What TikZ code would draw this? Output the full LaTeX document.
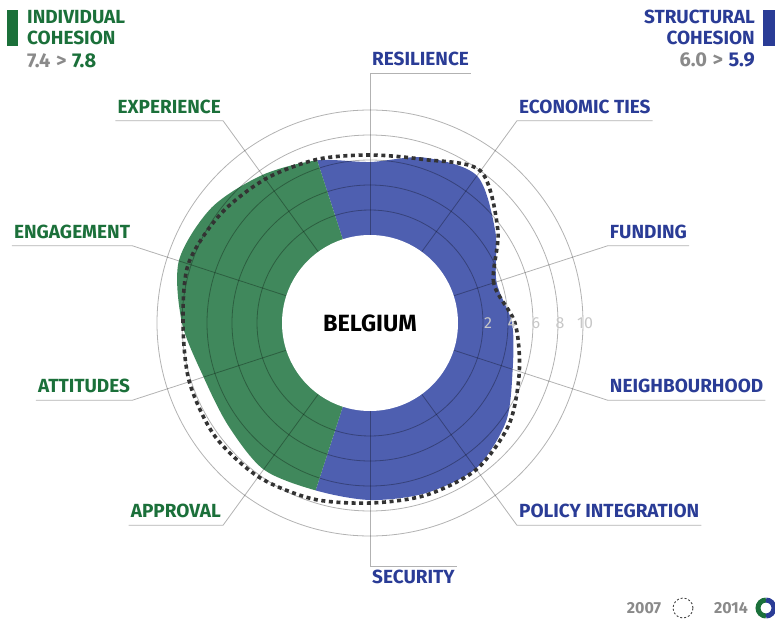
\documentclass[tikz,border=0pt]{standalone}
\usepackage{fontspec}
\setmainfont{Fira Sans}
\usetikzlibrary{calc}

\definecolor{indivtext}{RGB}{27,112,58}
\definecolor{indivfill}{RGB}{64,136,92}
\definecolor{structtext}{RGB}{42,60,150}
\definecolor{structfill}{RGB}{78,95,176}
\definecolor{scoregray}{RGB}{138,138,138}

\begin{document}
\begin{tikzpicture}[x=1pt, y=1pt,
		grid/.style={draw=black, draw opacity=0.3, line width=0.8pt},
		axislabel/.style={font=\fontsize{19}{19}\selectfont\bfseries, inner xsep=2pt, inner ysep=7pt},
		header/.style={font=\fontsize{19}{21}\selectfont\bfseries, inner sep=0pt},
		ringnum/.style={font=\fontsize{16}{16}\selectfont, text=black!22, inner sep=0pt},
		legendtext/.style={font=\fontsize{16}{16}\selectfont\bfseries, text=scoregray, inner sep=0pt},
		olddash/.style={draw=black!80, line width=3.6pt, dash pattern=on 4pt off 3.6pt}]
		\useasboundingbox (-370,-298) rectangle (405,323);
		\coordinate (centre) at (0,0);

		% 2014 values
		\begin{scope}
			\clip plot[smooth cycle] coordinates {(0:142) (18:133) (36:155) (54:182) (72:174) (90:161) (108:171) (126:183) (144:196) (162:201) (180:188) (198:175) (216:175) (234:181) (252:176) (270:177) (288:179) (306:180) (324:168) (342:150)};
			\fill[structfill] (centre) -- (252:300) arc[start angle=252, end angle=468, radius=300] -- cycle;
			\fill[indivfill] (centre) -- (108:300) arc[start angle=108, end angle=252, radius=300] -- cycle;
		\end{scope}

		\foreach \r in {113,138,163,188,213}
			\draw[grid] (centre) circle[radius=\r];

		% structural
		\node[axislabel, text=structtext, anchor=south west] (resilience) at (90:250) {RESILIENCE};
		\draw[grid] (centre) -- (resilience.south west) -- (resilience.south east);
		\node[axislabel, text=structtext, anchor=south west] (economic) at (54:250) {ECONOMIC TIES};
		\draw[grid] (centre) -- (economic.south west) -- (economic.south east);
		\node[axislabel, text=structtext, anchor=south west] (funding) at (18:250) {FUNDING};
		\draw[grid] (centre) -- (funding.south west) -- (funding.south east);
		\node[axislabel, text=structtext, anchor=south west] (neighbourhood) at (-18:250) {NEIGHBOURHOOD};
		\draw[grid] (centre) -- (neighbourhood.south west) -- (neighbourhood.south east);
		\node[axislabel, text=structtext, anchor=south west] (policy) at (-54:250) {POLICY INTEGRATION};
		\draw[grid] (centre) -- (policy.south west) -- (policy.south east);
		\node[axislabel, text=structtext, anchor=north west, inner ysep=4pt] (security) at (-90:243) {SECURITY};
		\draw[grid] (centre) -- (security.north west) -- (security.north east);

		% individual
		\node[axislabel, text=indivtext, anchor=south east] (approval) at (234:250) {APPROVAL};
		\draw[grid] (centre) -- (approval.south east) -- (approval.south west);
		\node[axislabel, text=indivtext, anchor=south east] (attitudes) at (198:250) {ATTITUDES};
		\draw[grid] (centre) -- (attitudes.south east) -- (attitudes.south west);
		\node[axislabel, text=indivtext, anchor=south east] (engagement) at (162:250) {ENGAGEMENT};
		\draw[grid] (centre) -- (engagement.south east) -- (engagement.south west);
		\node[axislabel, text=indivtext, anchor=south east] (experience) at (126:250) {EXPERIENCE};
		\draw[grid] (centre) -- (experience.south east) -- (experience.south west);

		\fill[white] (centre) circle[radius=88];

		% 2007 values
		\draw[olddash] plot[smooth cycle] coordinates {(0:145) (18:130) (36:158) (54:188) (72:172) (90:168) (108:172) (126:178) (144:185) (162:191) (180:187) (198:190) (216:192) (234:190) (252:185) (270:180) (288:181) (306:181) (324:172) (342:157)};

		\node[font=\fontsize{23.5}{23.5}\selectfont\bfseries] (country) at (centre) {BELGIUM};
		\foreach \v/\r in {2/118,4/142,6/166,8/190,10/215}
			\node[ringnum] (ring\v) at (\r,0) {\v};

		% headers
		\fill[indivtext] (-363,277) rectangle (-352,313);
		\node[header, text=indivtext, anchor=north west, align=left] (indiv) at (-343,313) {INDIVIDUAL\\COHESION};
		\node[header, font=\fontsize{20}{20}\selectfont\bfseries, anchor=north west] (indivscore) at (-343,270) {\textcolor{scoregray}{7.4\;>}\;\textcolor{indivtext}{7.8}};
		\fill[structtext] (393,277) rectangle (410,313);
		\node[header, text=structtext, anchor=north east, align=right] (struct) at (385,313) {STRUCTURAL\\COHESION};
		\node[header, font=\fontsize{20}{20}\selectfont\bfseries, anchor=north east] (structscore) at (385,270) {\textcolor{scoregray}{6.0\;>}\;\textcolor{structtext}{5.9}};

		% legend
		\node[legendtext] (year2007) at (274,-285) {2007};
		\draw[black!75, line width=0.9pt, dash pattern=on 2pt off 2pt] (313,-285) circle[radius=10];
		\node[legendtext] (year2014) at (361,-285) {2014};
		\draw[indivtext, line width=5pt] (396,-277) arc[start angle=90, end angle=270, radius=8];
		\draw[structtext, line width=5pt] (396,-293) arc[start angle=-90, end angle=90, radius=8];
	\end{tikzpicture}
\end{document}
